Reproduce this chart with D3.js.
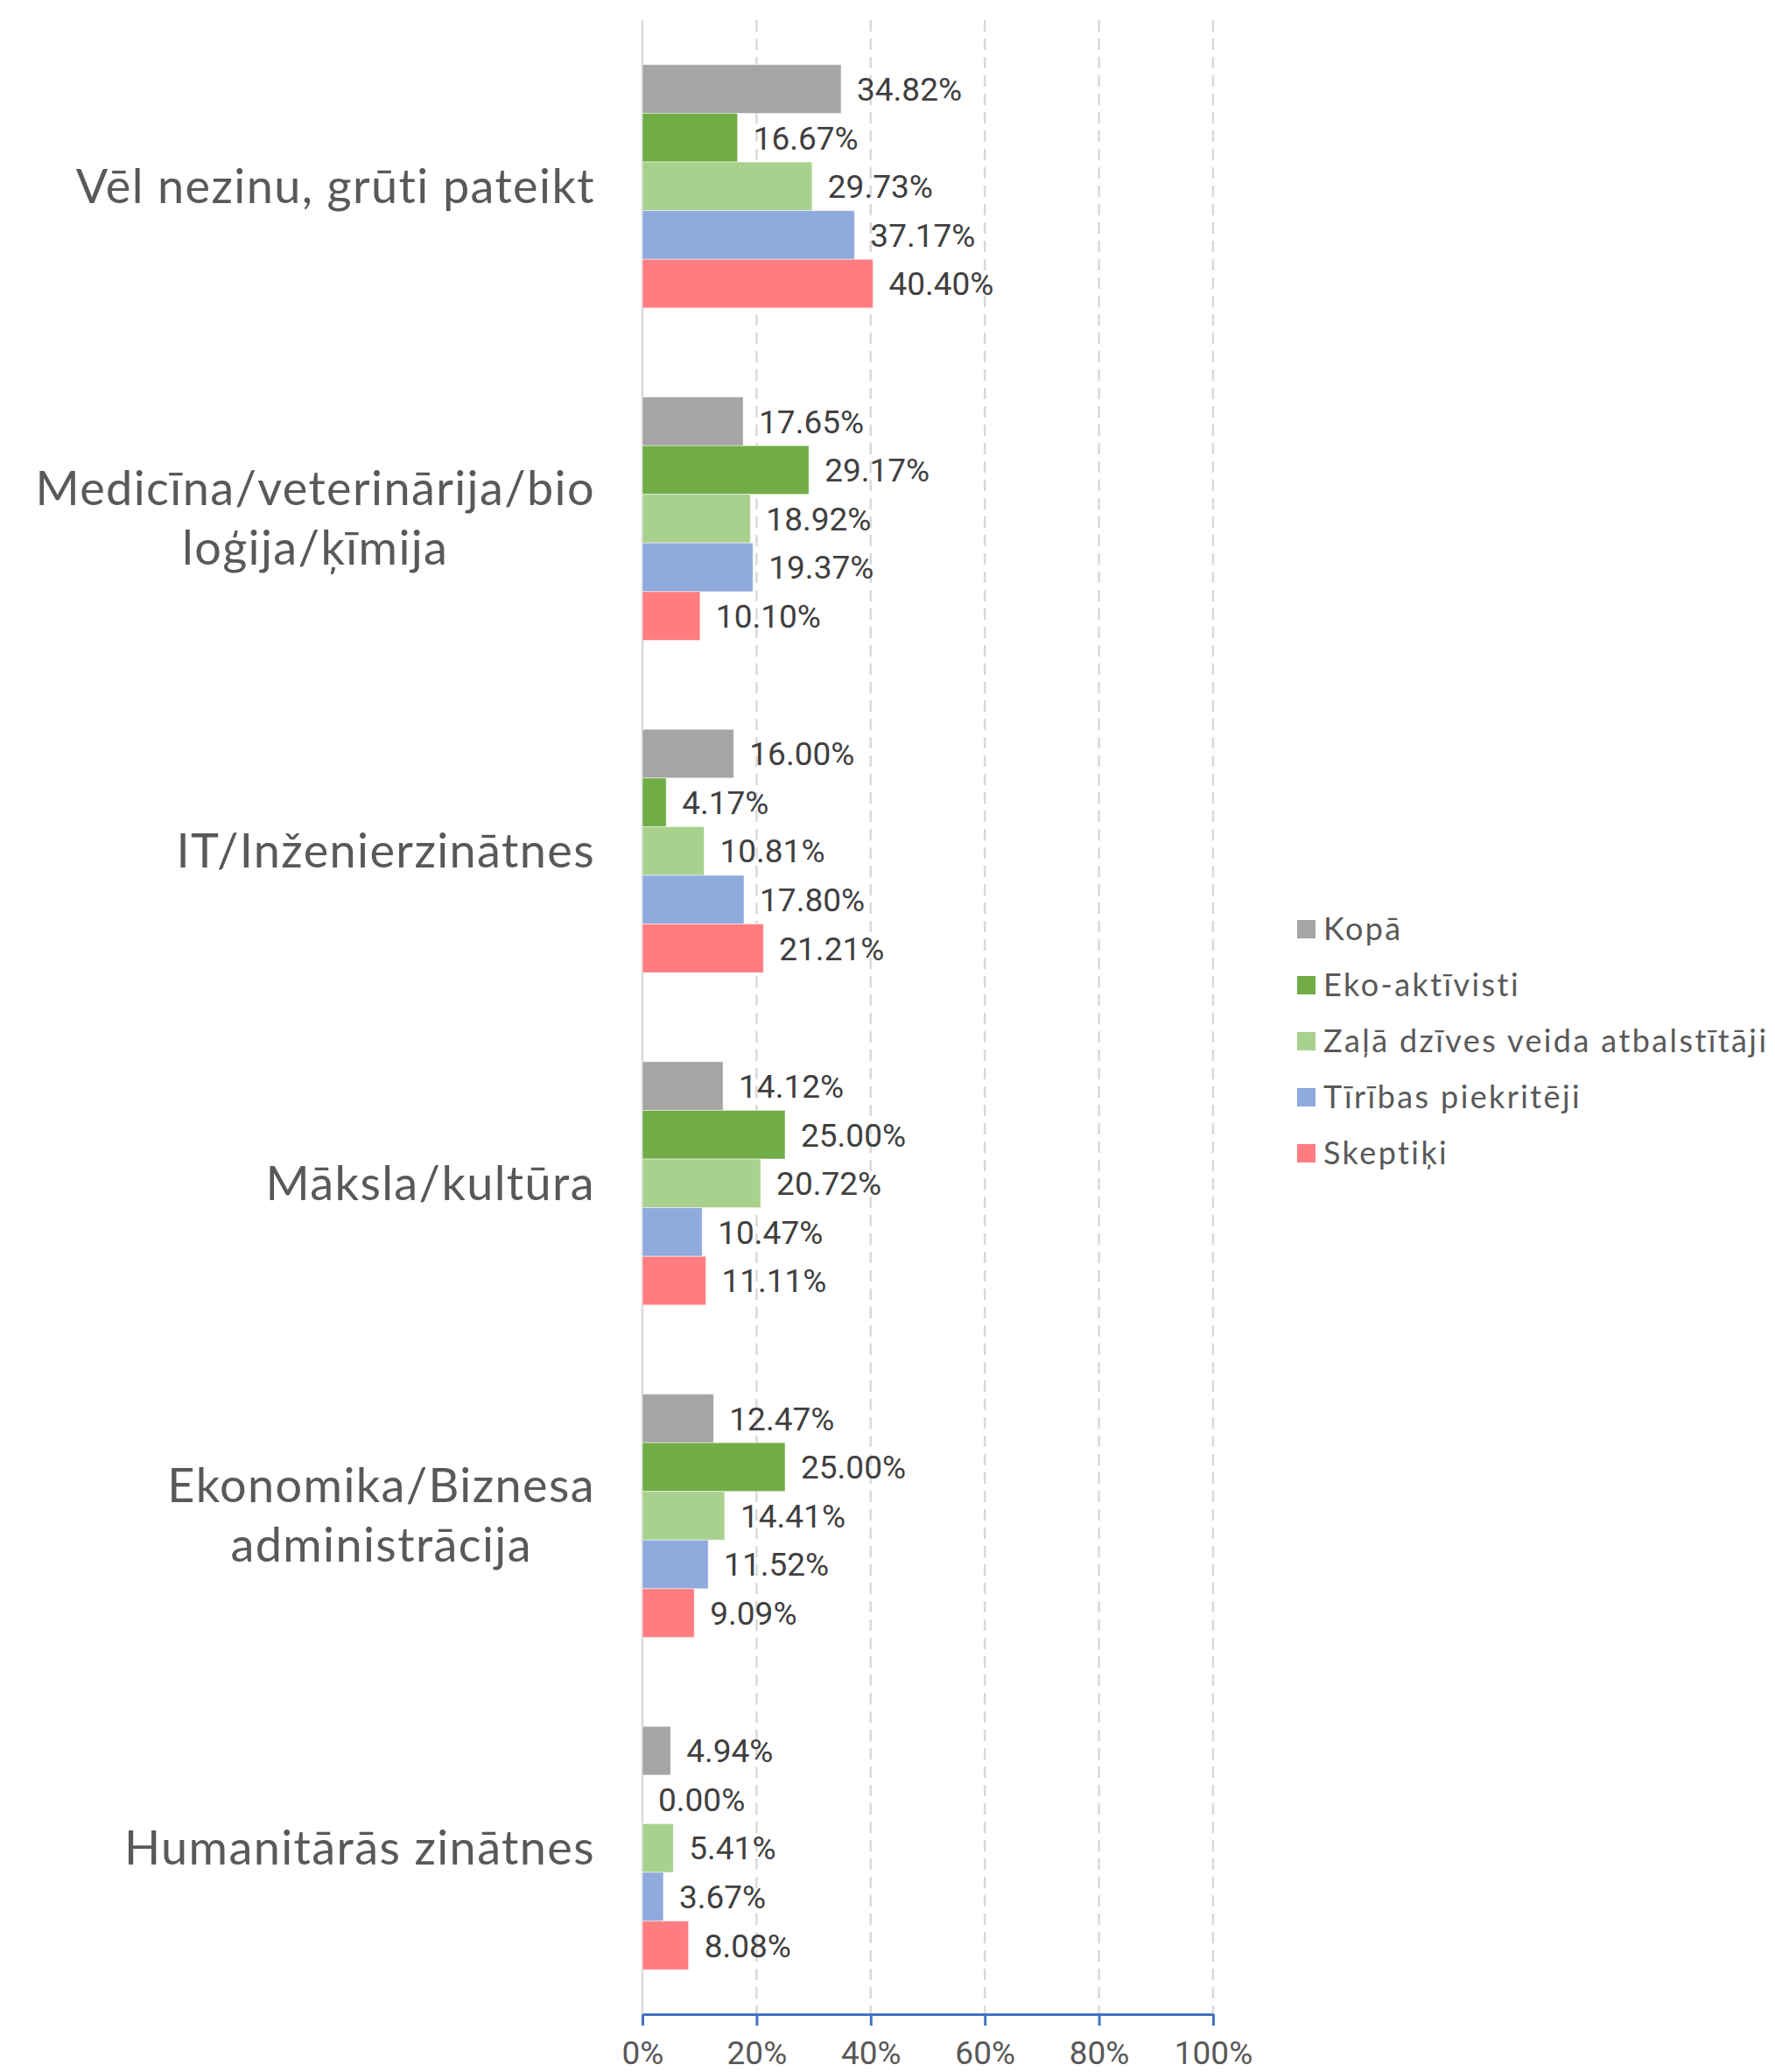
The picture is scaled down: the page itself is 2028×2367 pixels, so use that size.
<!DOCTYPE html>
<html lang="lv">
<head>
  <meta charset="utf-8">
  <title>Studiju jomas pa segmentiem</title>
  <script src="https://d3js.org/d3.v7.min.js"></script>
  <style>
    body { margin: 0; background: #fff; }
    .cat-label { font-family: Lato, sans-serif; fill: #595959; letter-spacing: 1.4px; }
    .val-label { font-family: Roboto, sans-serif; fill: #404040; }
    .tick-label { font-family: Roboto, sans-serif; fill: #595959; }
    .legend-label { font-family: Lato, sans-serif; fill: #595959; letter-spacing: 2.4px; }
  </style>
</head>
<body>
<script>
  // categories top to bottom, with the line breaks used in the picture
  const categories = [
    "Vēl nezinu, grūti pateikt",
    "Medicīna/veterinārija/bioloģija/ķīmija",
    "IT/Inženierzinātnes",
    "Māksla/kultūra",
    "Ekonomika/Biznesa administrācija",
    "Humanitārās zinātnes"
  ];
  const categoryLines = [
    ["Vēl nezinu, grūti pateikt"],
    ["Medicīna/veterinārija/bio", "loģija/ķīmija"],
    ["IT/Inženierzinātnes"],
    ["Māksla/kultūra"],
    ["Ekonomika/Biznesa", "administrācija"],
    ["Humanitārās zinātnes"]
  ];

  const seriesNames = ["Kopā", "Eko-aktīvisti", "Zaļā dzīves veida atbalstītāji", "Tīrības piekritēji", "Skeptiķi"];
  const seriesColors = ["#a5a5a5", "#70ad47", "#a9d18e", "#8faadc", "#ff7c80"];

  // values in %, same order as categories
  const kopa      = [34.82, 17.65, 16.00, 14.12, 12.47, 4.94];
  const ekoAkt    = [16.67, 29.17, 4.17, 25.00, 25.00, 0.00];
  const zalaDz    = [29.73, 18.92, 10.81, 20.72, 14.41, 5.41];
  const tiribas   = [37.17, 19.37, 17.80, 10.47, 11.52, 3.67];
  const skeptiki  = [40.40, 10.10, 21.21, 11.11, 9.09, 8.08];
  const seriesValues = [kopa, ekoAkt, zalaDz, tiribas, skeptiki];

  const xTicks = [0, 20, 40, 60, 80, 100];

  const width = 2028, height = 2367;
  const svg = d3.select("body").append("svg")
    .attr("width", width)
    .attr("height", height);

  const x = d3.scaleLinear().domain([0, 100]).range([734, 1386]);

  const y = d3.scaleBand()
    .domain(categories)
    .range([23, 2301])
    .paddingInner(0.268)
    .paddingOuter(0.134);

  const ySub = d3.scaleBand()
    .domain(seriesNames)
    .range([0, y.bandwidth()]);

  // gridlines
  svg.append("g")
    .selectAll("line")
    .data(xTicks)
    .join("line")
    .attr("x1", d => x(d))
    .attr("x2", d => x(d))
    .attr("y1", 23)
    .attr("y2", 2301)
    .attr("stroke", "#d9d9d9")
    .attr("stroke-width", 2.5)
    .attr("stroke-dasharray", d => d === 0 ? null : "13,8");

  // bars
  const rows = [];
  categories.forEach((c, i) => {
    seriesNames.forEach((s, j) => {
      rows.push({ cat: c, series: s, value: seriesValues[j][i], color: seriesColors[j] });
    });
  });

  svg.append("g")
    .selectAll("rect")
    .data(rows)
    .join("rect")
    .attr("x", x(0))
    .attr("y", d => y(d.cat) + ySub(d.series))
    .attr("width", d => x(d.value) - x(0))
    .attr("height", ySub.bandwidth())
    .attr("fill", d => d.color)
    .attr("stroke", "#fff")
    .attr("stroke-opacity", 0.5)
    .attr("stroke-width", 1);

  // value labels
  svg.append("g")
    .selectAll("text")
    .data(rows)
    .join("text")
    .attr("class", "val-label")
    .attr("x", d => x(d.value) + 18)
    .attr("y", d => y(d.cat) + ySub(d.series) + ySub.bandwidth() / 2)
    .attr("dy", "0.36em")
    .attr("font-size", 37)
    .text(d => d.value.toFixed(2) + "%");

  // x axis
  const axis = svg.append("g")
    .attr("transform", "translate(0,2301)")
    .call(d3.axisBottom(x).tickValues(xTicks).tickSize(13).tickSizeOuter(0).tickFormat(d => d + "%"));
  axis.select(".domain").attr("stroke", "#4472c4").attr("stroke-width", 3);
  axis.selectAll(".tick line").attr("stroke", "#4472c4").attr("stroke-width", 3);
  axis.selectAll(".tick text")
    .attr("class", "tick-label")
    .attr("font-size", 37)
    .attr("y", 31)
    .attr("fill", "#595959");

  // category labels (wrapped lines centered, block right-aligned to the axis)
  const labelRight = 680;
  const lineGap = 68;
  categories.forEach((c, i) => {
    const lines = categoryLines[i];
    const g = svg.append("g");
    const cy = y(c) + y.bandwidth() / 2;
    const texts = lines.map((ln, k) => g.append("text")
      .attr("class", "cat-label")
      .attr("font-size", 54)
      .attr("y", cy + (k - (lines.length - 1) / 2) * lineGap)
      .attr("dy", "0.35em")
      .attr("text-anchor", "middle")
      .text(ln));
    const maxW = d3.max(texts, t => t.node().getComputedTextLength());
    texts.forEach(t => t.attr("x", labelRight - maxW / 2));
  });

  // legend
  const legend = svg.append("g").attr("transform", "translate(1482,1061)");
  const items = legend.selectAll("g")
    .data(seriesNames)
    .join("g")
    .attr("transform", (d, i) => `translate(0,${i * 64})`);
  items.append("rect")
    .attr("x", 0).attr("y", -10)
    .attr("width", 21).attr("height", 21)
    .attr("fill", (d, i) => seriesColors[i]);
  items.append("text")
    .attr("class", "legend-label")
    .attr("x", 30)
    .attr("dy", "0.35em")
    .attr("font-size", 36)
    .text(d => d);
</script>
</body>
</html>
